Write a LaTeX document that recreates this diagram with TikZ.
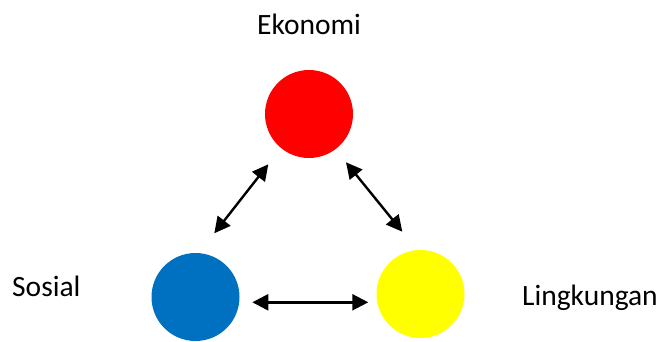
\documentclass[tikz,border=0pt]{standalone}
\usepackage{fontspec}
\setmainfont{Carlito}
\usetikzlibrary{arrows.meta}
\definecolor{eko}{HTML}{FF0000}
\definecolor{sos}{HTML}{0070C0}
\definecolor{ling}{HTML}{FFFF00}
\begin{document}
\begin{tikzpicture}[x=1pt,y=-1pt,
  ball/.style={circle,draw=none,minimum size=88pt,inner sep=0pt},
  lbl/.style={anchor=base west,inner sep=0pt,font=\fontsize{29.5}{33}\selectfont},
  link/.style={line width=2.4pt,{Triangle[length=16pt,width=16pt]}-{Triangle[length=16pt,width=16pt]}}]
\useasboundingbox (0,0) rectangle (660,342);
\node[ball,fill=eko] (e) at (309,114) {};
\node[ball,fill=sos] (s) at (195.5,297) {};
\node[ball,fill=ling] (l) at (420.5,294) {};
\node[lbl] (te) at (257,35) {Ekonomi};
\node[lbl] (ts) at (12,296.7) {Sosial};
\node[lbl] (tl) at (522,305.7) {Lingkungan};
\coordinate (a1) at (214.3,233.3);
\coordinate (a2) at (268.3,164.3);
\coordinate (b1) at (346,162.3);
\coordinate (b2) at (402.3,231.7);
\coordinate (c1) at (252.3,302.3);
\coordinate (c2) at (368.3,302.3);
\draw[link] (a1) -- (a2);
\draw[link] (b1) -- (b2);
\draw[link] (c1) -- (c2);
\end{tikzpicture}
\end{document}
